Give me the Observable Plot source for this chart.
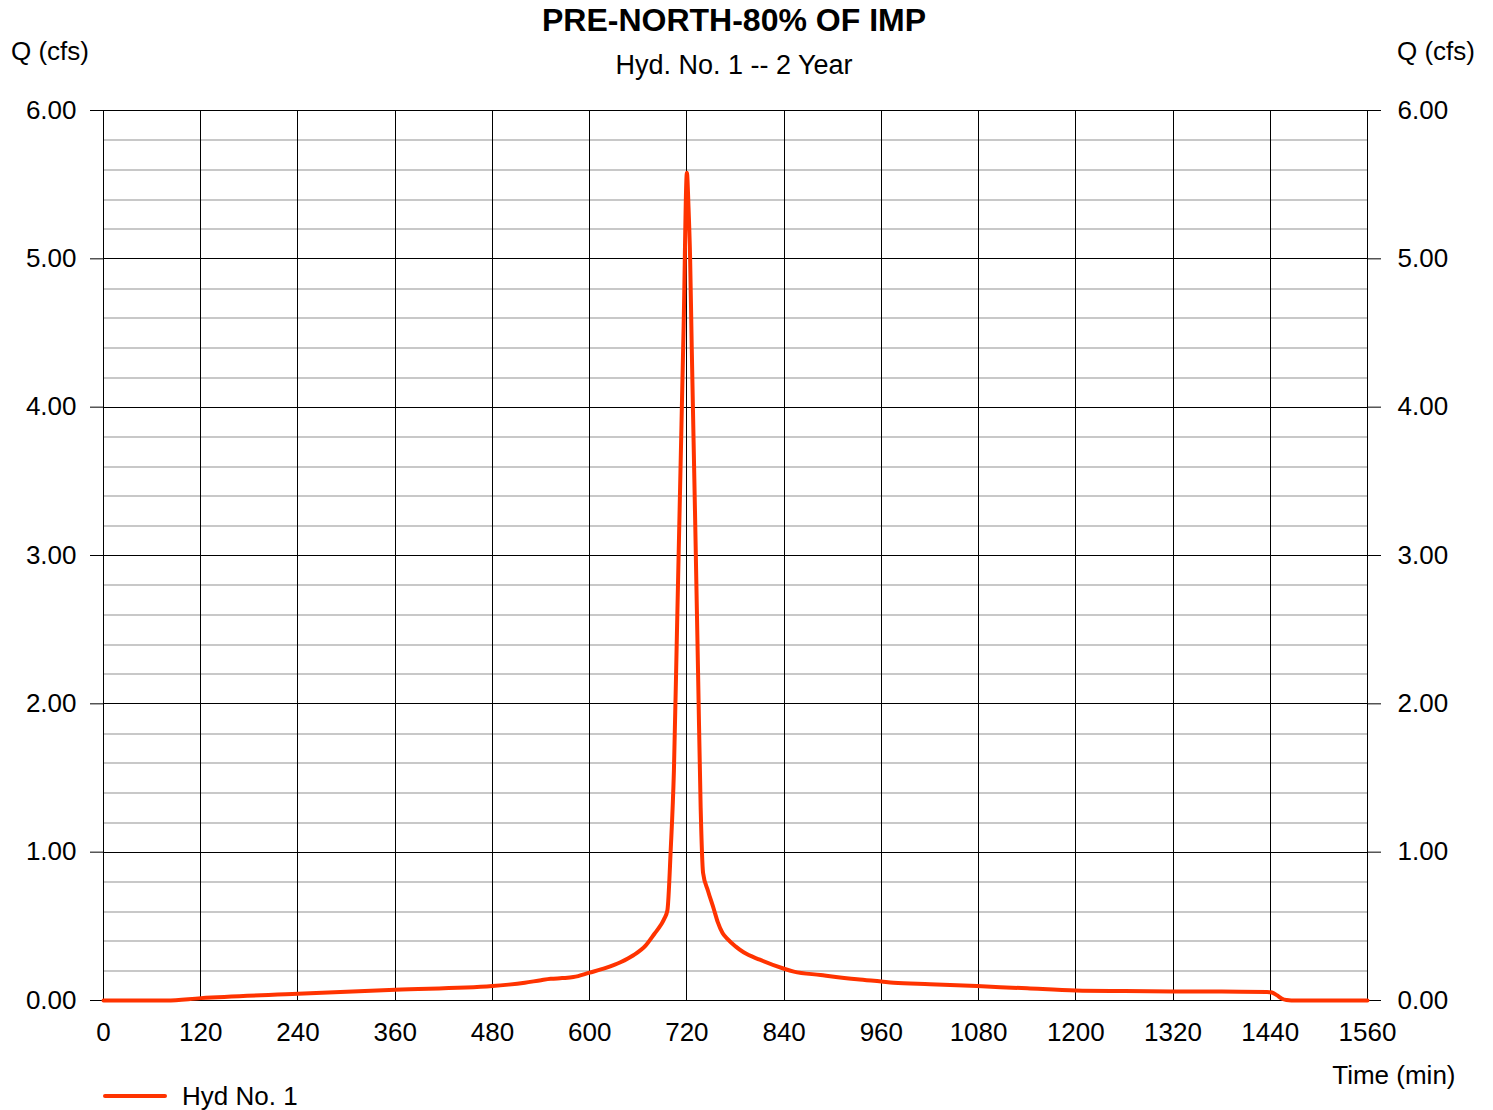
<!DOCTYPE html>
<html>
<head>
<meta charset="utf-8">
<script src="https://cdn.jsdelivr.net/npm/d3@7"></script>
<script src="https://cdn.jsdelivr.net/npm/@observablehq/plot@0.6"></script>
<style>
  body { margin: 0; background: #fff; font-family: "Liberation Sans", Arial, sans-serif; color: #000; }
  #wrap { width: 1493px; height: 1110px; overflow: hidden; }
  #header { position: relative; height: 88px; }
  #header div { position: absolute; white-space: nowrap; line-height: 1; }
  #title { left: 0; width: 1468px; text-align: center; top: 4px; font-size: 32px; font-weight: bold; }
  #subtitle { left: 0; width: 1468px; text-align: center; top: 52px; font-size: 27px; }
  #ql { left: 11px; top: 38px; font-size: 26px; }
  #qr { left: 1397px; top: 38px; font-size: 26px; }
  #chart svg { display: block; }
  #legend { position: relative; margin-top: -10px; height: 28px; display: flex; align-items: center; font-size: 26px; line-height: 1; }
  #legend .sw { display: inline-block; width: 64px; height: 4px; margin-left: 103px; margin-right: 15px; background: #ff3300; border-radius: 2px; }
</style>
</head>
<body>
<div id="wrap">
  <div id="header">
    <div id="title">PRE-NORTH-80% OF IMP</div>
    <div id="subtitle">Hyd. No. 1 -- 2 Year</div>
    <div id="ql">Q (cfs)</div>
    <div id="qr">Q (cfs)</div>
  </div>
  <div id="chart"></div>
  <div id="legend"><span class="sw"></span><span>Hyd No. 1</span></div>
</div>
<script>
// Hydrograph: time (min) and flow (cfs)
const timeMin = [0, 78, 120, 240, 360, 480, 500, 520, 540, 552, 566, 580, 600, 620, 638, 654, 669, 680, 688, 692, 696,
  700, 704, 708, 712, 716, 720, 722, 724, 726, 730, 734, 737, 740, 746, 753, 758, 764, 770, 780, 790, 810, 840, 852,
  885, 930, 960, 975, 1020, 1078, 1140, 1200, 1260, 1320, 1380, 1436, 1442, 1448, 1454, 1460, 1466, 1560];
const flowCfs = [0, 0, 0.016, 0.045, 0.072, 0.097, 0.107, 0.12, 0.137, 0.146, 0.151, 0.158, 0.188, 0.22, 0.258, 0.305, 0.37, 0.45, 0.51, 0.55, 0.61,
  1.01, 1.55, 2.55, 3.55, 4.55, 5.58, 5.35, 5.0, 4.4, 3.3, 2.15, 1.3, 0.86, 0.74, 0.62, 0.53, 0.455, 0.415, 0.365, 0.325, 0.275, 0.214, 0.195,
  0.172, 0.143, 0.128, 0.12, 0.11, 0.097, 0.082, 0.068, 0.064, 0.061, 0.06, 0.058, 0.054, 0.036, 0.014, 0.003, 0, 0];

const xTicks = [0, 120, 240, 360, 480, 600, 720, 840, 960, 1080, 1200, 1320, 1440, 1560];
const yMajor = [0, 1, 2, 3, 4, 5, 6];
const yMinor = [0.2, 0.4, 0.6, 0.8, 1.2, 1.4, 1.6, 1.8, 2.2, 2.4, 2.6, 2.8, 3.2, 3.4, 3.6, 3.8, 4.2, 4.4, 4.6, 4.8, 5.2, 5.4, 5.6, 5.8];

const data = timeMin.map((t, i) => ({t, q: flowCfs[i]}));
const fmt = d3.format(".2f");

const chart = Plot.plot({
  width: 1493,
  height: 1004,
  marginLeft: 103,
  marginRight: 126,
  marginTop: 22,
  marginBottom: 92,
  x: {domain: [0, 1560]},
  y: {domain: [0, 6]},
  style: {fontFamily: "'Liberation Sans', Arial, sans-serif", fontSize: "26px", color: "#000", background: "transparent"},
  marks: [
    Plot.ruleY(yMinor, {stroke: "#c8c8c8", strokeWidth: 2, shapeRendering: "crispEdges"}),
    Plot.ruleX(xTicks, {stroke: "#000", strokeWidth: 1, shapeRendering: "crispEdges"}),
    Plot.ruleY(yMajor, {stroke: "#000", strokeWidth: 1, shapeRendering: "crispEdges"}),
    Plot.axisY({anchor: "left", ticks: yMajor, tickFormat: fmt, tickSize: 13, tickPadding: 14, label: null, fontSize: 26}),
    Plot.axisY({anchor: "right", ticks: yMajor, tickFormat: fmt, tickSize: 13, tickPadding: 17, label: null, fontSize: 26}),
    Plot.axisX({ticks: xTicks, tickFormat: d => String(d), tickSize: 0, tickPadding: 22, label: null, fontSize: 26}),
    Plot.line(data, {x: "t", y: "q", stroke: "#ff3300", strokeWidth: 4, curve: "monotone-x", strokeLinejoin: "round"}),
    Plot.text(["Time (min)"], {frameAnchor: "bottom-right", dx: 88, dy: 83, textAnchor: "end", fontSize: 26, fill: "#000"})
  ]
});
document.getElementById("chart").appendChild(chart);
</script>
</body>
</html>
